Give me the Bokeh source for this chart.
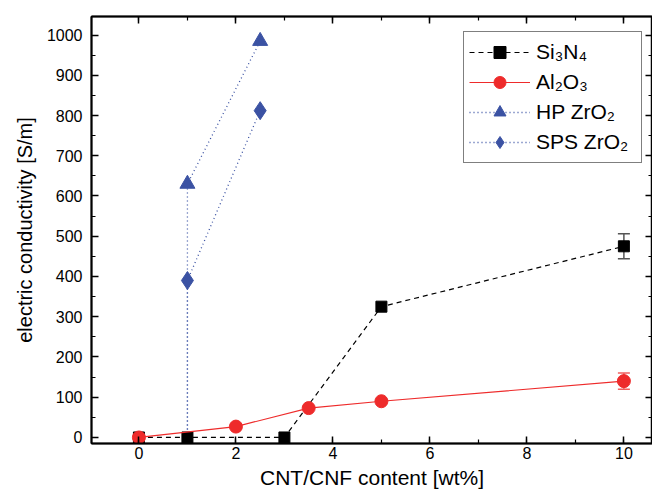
from bokeh.plotting import figure
from bokeh.models import (Range1d, LinearAxis, SingleIntervalTicker, Legend,
                          LegendItem, Whisker, ColumnDataSource, TeeHead,
                          CustomLabelingPolicy, CustomJSTickFormatter)
from bokeh.embed import file_html
from bokeh.resources import INLINE

# ---- data ----
si_x = [0, 1, 3, 5, 10]
si_y = [0, 0, 0, 325, 475]
si_err_x = [10]
si_err_y = [475]
si_err = [31]

al_x = [0, 2, 3.5, 5, 10]
al_y = [0, 27, 73, 90, 140]
al_err_x = [10]
al_err_y = [140]
al_err = [20]

hp_x = [1, 1, 2.5]
hp_y = [0, 630, 985]

sps_x = [1, 1, 2.5]
sps_y = [0, 390, 812]

x_ticks_interval = 2
y_ticks_interval = 100

labels = ["Si\u2083N\u2084", "Al\u2082O\u2083", "HP ZrO\u2082", "SPS ZrO\u2082"]

BLACK = "#000000"
RED = "#ee2b2b"
BLUE = "#3b52a3"
FONT = "Liberation Sans"

p = figure(width=652, height=495, output_backend="svg", toolbar_location=None,
           x_range=Range1d(-0.978, 10.59), y_range=Range1d(-15, 1046),
           min_border_left=91, min_border_right=0, min_border_top=16,
           min_border_bottom=52)
p.xgrid.visible = False
p.ygrid.visible = False
p.outline_line_color = BLACK
p.outline_line_width = 1.5
p.background_fill_color = "white"
p.border_fill_color = "white"

# series
hp_l = p.line(hp_x, hp_y, line_color=BLUE, line_width=1.3, line_dash="1 3")
hp_s = p.scatter(hp_x[1:], hp_y[1:], marker="triangle", size=15,
                 fill_color=BLUE, line_color=BLUE)
sps_l = p.line(sps_x, sps_y, line_color=BLUE, line_width=1.3, line_dash="1 3")
sps_s = p.scatter(sps_x[1:], sps_y[1:], marker="diamond", size=18,
                  fill_color=BLUE, line_color=BLUE)

si_l = p.line(si_x, si_y, line_color=BLACK, line_width=1.2, line_dash="5 4")
si_s = p.scatter(si_x, si_y, marker="square", size=11,
                 fill_color=BLACK, line_color=BLACK)

al_l = p.line(al_x, al_y, line_color=RED, line_width=1.2)
al_s = p.scatter(al_x, al_y, marker="circle", size=13,
                 fill_color=RED, line_color=RED)

# error bars
si_src = ColumnDataSource(dict(x=si_err_x,
                               lo=[v - e for v, e in zip(si_err_y, si_err)],
                               hi=[v + e for v, e in zip(si_err_y, si_err)]))
al_src = ColumnDataSource(dict(x=al_err_x,
                               lo=[v - e for v, e in zip(al_err_y, al_err)],
                               hi=[v + e for v, e in zip(al_err_y, al_err)]))
for src, col in ((si_src, "#555555"), (al_src, "#f06060")):
    w = Whisker(source=src, base="x", lower="lo", upper="hi",
                line_color=col, line_width=1.5,
                upper_head=TeeHead(size=12, line_color=col, line_width=1.5),
                lower_head=TeeHead(size=12, line_color=col, line_width=1.5))
    p.add_layout(w)

hide_labels = CustomLabelingPolicy(code="""
try { indices.clear(); } catch (e) {
  for (const i of Array.from(indices)) { indices.unset(i); }
}
return indices;
""")

# axes
def style_axis(ax, ticker, show_labels=True):
    ax.ticker = ticker
    ax.axis_line_color = BLACK
    ax.axis_line_width = 2
    ax.major_tick_line_color = BLACK
    ax.major_tick_line_width = 1.5
    ax.minor_tick_line_color = BLACK
    ax.minor_tick_line_width = 1.2
    ax.major_tick_in = 7
    ax.major_tick_out = 0
    ax.minor_tick_in = 4
    ax.minor_tick_out = 0
    ax.major_label_text_font = FONT
    ax.major_label_text_font_size = "16px"
    ax.major_label_text_color = BLACK
    ax.axis_label_text_font = FONT
    ax.axis_label_text_font_style = "normal"
    ax.axis_label_text_color = BLACK
    if not show_labels:
        ax.formatter = CustomJSTickFormatter(code="return '';")
        ax.major_label_policy = hide_labels
        ax.major_label_text_font_size = "0px"
        ax.major_label_standoff = 0
        ax.axis_label_standoff = 0

xt = SingleIntervalTicker(interval=x_ticks_interval, num_minor_ticks=2)
yt = SingleIntervalTicker(interval=y_ticks_interval, num_minor_ticks=2)

style_axis(p.xaxis[0], xt)
p.xaxis[0].axis_label = "CNT/CNF content [wt%]"
p.xaxis[0].axis_label_text_font_size = "21px"
p.xaxis[0].major_label_standoff = 3
p.xaxis[0].axis_label_standoff = 4

style_axis(p.yaxis[0], yt)
p.yaxis[0].axis_label = "electric conductivity [S/m]"
p.yaxis[0].axis_label_text_font_size = "20px"
p.yaxis[0].major_label_standoff = 9
p.yaxis[0].axis_label_standoff = 8

top = LinearAxis()
style_axis(top, SingleIntervalTicker(interval=x_ticks_interval, num_minor_ticks=2), False)
p.add_layout(top, "above")
right = LinearAxis()
style_axis(right, SingleIntervalTicker(interval=y_ticks_interval, num_minor_ticks=2), False)
p.add_layout(right, "right")

# legend
legend = Legend(items=[
    LegendItem(label=labels[0], renderers=[si_l, si_s]),
    LegendItem(label=labels[1], renderers=[al_l, al_s]),
    LegendItem(label=labels[2], renderers=[hp_l, hp_s]),
    LegendItem(label=labels[3], renderers=[sps_l, sps_s]),
], location=(372, 280))
legend.label_text_font = FONT
legend.label_text_font_size = "21px"
legend.label_text_color = BLACK
legend.glyph_width = 61
legend.glyph_height = 30
legend.label_standoff = 6
legend.label_width = 100
legend.padding = 5
legend.spacing = 0
legend.border_line_color = BLACK
legend.border_line_width = 1.5
legend.background_fill_alpha = 1.0
legend.margin = 0
p.add_layout(legend, "center")

open("out.html", "w").write(file_html(p, INLINE))
